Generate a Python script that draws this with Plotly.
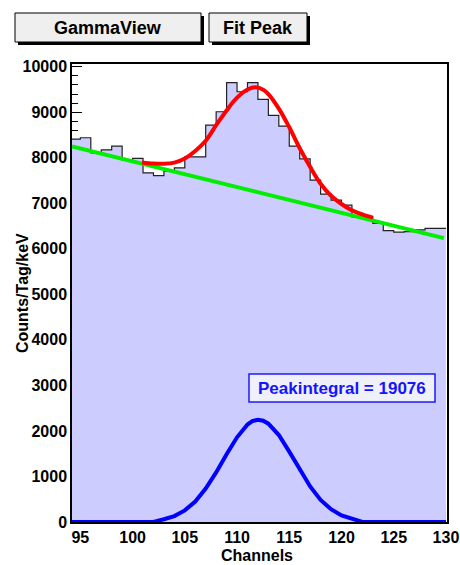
import plotly.graph_objects as go

# ---------------- data ----------------
bin_left = list(range(94, 130))  # bins of width 1
counts = [8410, 8440, 8110, 8175, 8257, 7950, 7985, 7670, 7610, 7708,
          7780, 8022, 8022, 8719, 9011, 9650, 9450, 9650, 9283, 8930,
          8697, 8257, 7978, 7510, 7202, 7070, 6960, 6700, 6700, 6560,
          6400, 6365, 6380, 6415, 6448, 6448]

bg_x = [94.2, 129.8]
bg_y = [8250, 6235]

fit_x = [100.9, 102, 103, 104, 105, 106, 107, 108, 109, 110, 111, 111.8,
         112.5, 113, 114, 115, 116, 117, 118, 119, 120, 121, 122, 123]
fit_y = [7895, 7872, 7868, 7895, 7985, 8150, 8375, 8715, 9040, 9320, 9500,
         9550, 9495, 9400, 9080, 8670, 8210, 7800, 7430, 7165, 6985, 6845,
         6755, 6685]

peak_x = [94, 95, 96, 97, 98, 99, 100, 101, 102, 103, 104, 105, 106, 107,
          108, 109, 110, 111, 111.5, 112, 112.5, 113, 114, 115, 116, 117,
          118, 119, 120, 121, 122, 123, 124, 125, 126, 127, 128, 129, 130]
peak_y = [0, 0, 0, 0, 0, 0, 0, 0, 0, 60, 130, 255, 450, 735,
          1090, 1490, 1860, 2140, 2220, 2245, 2225, 2160, 1910, 1545, 1150, 780,
          485, 280, 145, 70, 0, 0, 0, 0, 0, 0, 0, 0, 0]

peak_integral = 19076
x_ticks = [95, 100, 105, 110, 115, 120, 125, 130]

# ---------------- layout helpers ----------------
L, R, T, B = 72, 447, 64, 522
W, H = R - L, B - T
def px(x):
    return (x - L) / W
def py(y):
    return (B - y) / H

FONT = "Liberation Sans, Arial, Helvetica, sans-serif"

fig = go.Figure()

# histogram: step with fill
hx = bin_left + [bin_left[-1] + 1]
hy = counts + [counts[-1]]
fig.add_trace(go.Scatter(x=hx, y=hy, mode="lines", line_shape="hv",
                         line=dict(color="#222222", width=1.2),
                         fill="tozeroy", fillcolor="#ccccff",
                         hoverinfo="skip", showlegend=False))
# background line
fig.add_trace(go.Scatter(x=bg_x, y=bg_y, mode="lines",
                         line=dict(color="#00ee00", width=4),
                         showlegend=False))
# total fit
fig.add_trace(go.Scatter(x=fit_x, y=fit_y, mode="lines", line_shape="spline",
                         line=dict(color="#ff0000", width=4),
                         showlegend=False))
# peak only
fig.add_trace(go.Scatter(x=peak_x, y=peak_y, mode="lines",
                         line=dict(color="#0000ff", width=4),
                         showlegend=False))

fig.update_xaxes(range=[94.2, 130.1], tickmode="array", tickvals=x_ticks,
                 automargin=False,
                 ticks="inside", ticklen=11, tickwidth=1.2, tickcolor="black",
                 minor=dict(dtick=1, tick0=95, ticks="inside", ticklen=6,
                            tickwidth=1, tickcolor="black"),
                 showgrid=False, zeroline=False, showline=True,
                 linecolor="black", linewidth=1.5, mirror=True,
                 layer="below traces",
                 tickfont=dict(family=FONT, size=16, color="black", weight="bold"))
fig.update_yaxes(range=[0, 10060], tick0=0, dtick=1000, tickformat="d",
                 automargin=False,
                 ticks="inside", ticklen=10, tickwidth=1.2, tickcolor="black",
                 minor=dict(dtick=200, ticks="inside", ticklen=6,
                            tickwidth=1, tickcolor="black"),
                 showgrid=False, zeroline=False, showline=True,
                 linecolor="black", linewidth=1.5, mirror=True,
                 layer="below traces",
                 tickfont=dict(family=FONT, size=16, color="black", weight="bold"))

shapes = []
annotations = []

def button(x0, y0, x1, y1, text, cx):
    shapes.append(dict(type="rect", xref="paper", yref="paper",
                       x0=px(x0 + 3), x1=px(x1 + 3), y0=py(y1 + 3), y1=py(y0 + 3),
                       fillcolor="black", line=dict(width=0)))
    shapes.append(dict(type="rect", xref="paper", yref="paper",
                       x0=px(x0), x1=px(x1), y0=py(y1), y1=py(y0),
                       fillcolor="#efefef", line=dict(color="black", width=1)))
    annotations.append(dict(text=text, xref="paper", yref="paper",
                            x=px(cx), y=py((y0 + y1) / 2), xanchor="center",
                            yanchor="middle", showarrow=False,
                            font=dict(family=FONT, size=18, color="black",
                                      weight="bold")))

button(15, 13, 201, 42, "GammaView", 108)
button(209, 13, 307, 42, "Fit Peak", 258)

# peak integral box
shapes.append(dict(type="rect", xref="paper", yref="paper",
                   x0=px(249), x1=px(435), y0=py(402), y1=py(374),
                   fillcolor="#f0f0fb", line=dict(color="#1a1aff", width=1.5)))
annotations.append(dict(text=f"Peakintegral = {peak_integral}", xref="paper",
                        yref="paper", x=px(342), y=py(388), xanchor="center",
                        yanchor="middle", showarrow=False,
                        font=dict(family=FONT, size=17, color="#1414ff",
                                  weight="bold")))

# axis titles
annotations.append(dict(text="Channels", xref="paper", yref="paper",
                        x=px(257), y=py(555), xanchor="center", yanchor="middle",
                        showarrow=False,
                        font=dict(family=FONT, size=16, color="black",
                                  weight="bold")))
annotations.append(dict(text="Counts/Tag/keV", xref="paper", yref="paper",
                        x=px(22), y=py(293), xanchor="center", yanchor="middle",
                        textangle=-90, showarrow=False,
                        font=dict(family=FONT, size=16, color="black",
                                  weight="bold")))

fig.update_layout(width=460, height=565,
                  margin=dict(l=L, r=460 - R, t=T, b=565 - B),
                  paper_bgcolor="white", plot_bgcolor="white",
                  shapes=shapes, annotations=annotations, showlegend=False)

fig.write_html("out.html")
